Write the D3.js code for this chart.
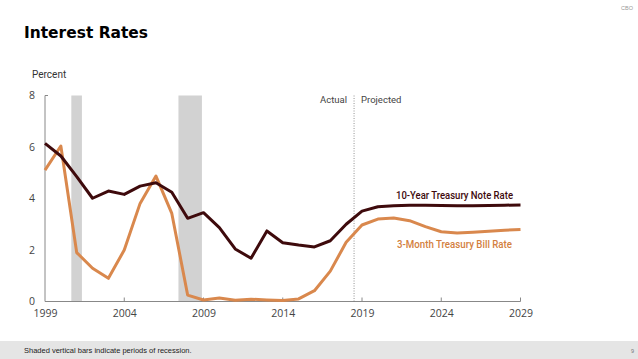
<!DOCTYPE html>
<html>
<head>
<meta charset="utf-8">
<script src="https://cdn.jsdelivr.net/npm/d3@7"></script>
<style>
  html, body { margin: 0; padding: 0; background: #fff; }
  svg { display: block; }
</style>
</head>
<body>
<svg id="chart" width="638" height="359"></svg>
<script>
// ---- data ----
const years = d3.range(1999, 2030);
const tenYear = [6.14, 5.65, 4.85, 4.01, 4.29, 4.16, 4.48, 4.61, 4.24, 3.23, 3.45, 2.87, 2.04, 1.68, 2.74, 2.28, 2.19, 2.12, 2.36, 3.0, 3.51, 3.68, 3.72, 3.74, 3.74, 3.73, 3.72, 3.72, 3.73, 3.74, 3.75];
const threeMonth = [5.1, 6.04, 1.9, 1.29, 0.9, 2.0, 3.81, 4.87, 3.42, 0.25, 0.06, 0.14, 0.05, 0.09, 0.06, 0.04, 0.1, 0.42, 1.18, 2.3, 2.97, 3.2, 3.24, 3.14, 2.91, 2.71, 2.66, 2.69, 2.73, 2.77, 2.8];
const recessions = [[2000.66, 2001.33], [2007.42, 2008.9]];
const projectionStart = 2018.5;
const yTicks = [0, 2, 4, 6, 8];
const xTicks = [1999, 2004, 2009, 2014, 2019, 2024, 2029];
const seriesNames = ["10-Year Treasury Note Rate", "3-Month Treasury Bill Rate"];

// ---- layout ----
const svg = d3.select("#chart");
const x = d3.scaleLinear().domain([1999, 2029]).range([45, 520.5]);
const y = d3.scaleLinear().domain([0, 8]).range([301.5, 95.5]);

const darkColor = "#3e0a0c";
const orangeColor = "#d9884d";
const labelFont = "'Roboto', 'Open Sans', sans-serif";

// title
svg.append("text").attr("x", 24).attr("y", 37.5)
  .attr("font-family", "'DejaVu Sans', sans-serif")
  .attr("font-weight", 700).attr("font-size", 16).attr("fill", "#000")
  .attr("textLength", 124).attr("lengthAdjust", "spacingAndGlyphs")
  .text("Interest Rates");

// CBO
svg.append("text").attr("x", 633).attr("y", 10).attr("text-anchor", "end")
  .attr("font-family", "'Liberation Sans', Arial, sans-serif")
  .attr("font-size", 5.5).attr("fill", "#999").text("CBO");

// recessions
svg.append("g").selectAll("rect").data(recessions).join("rect")
  .attr("x", d => x(d[0])).attr("width", d => x(d[1]) - x(d[0]))
  .attr("y", y(8)).attr("height", y(0) - y(8))
  .attr("fill", "#d2d2d2");

// Percent label
svg.append("text").attr("x", 32).attr("y", 78)
  .attr("font-family", labelFont).attr("font-size", 10).attr("fill", "#333")
  .text("Percent");

// axes
const yAxis = d3.axisLeft(y).tickValues(yTicks).tickSize(0).tickPadding(10);
const gy = svg.append("g").attr("transform", `translate(${x(1999)},0)`).call(yAxis);
gy.select(".domain").remove();
gy.selectAll("text").attr("font-family", "'Open Sans', sans-serif").attr("font-size", 10.5).attr("fill", "#444");

svg.append("line").attr("x1", x(1999)).attr("x2", x(1999)).attr("y1", y(8)).attr("y2", y(0))
  .attr("stroke", "#888").attr("stroke-width", 1);
svg.append("line").attr("x1", x(1999)).attr("x2", x(1999) + 3).attr("y1", y(8)).attr("y2", y(8))
  .attr("stroke", "#888").attr("stroke-width", 1);

const xAxis = d3.axisBottom(x).tickValues(xTicks).tickFormat(d3.format("d")).tickSize(0).tickPadding(8);
const gx = svg.append("g").attr("transform", `translate(0,${y(0)})`).call(xAxis);
gx.select(".domain").remove();
gx.selectAll("text").attr("font-family", "'Open Sans', sans-serif").attr("font-size", 10.5).attr("fill", "#444");
svg.append("line").attr("x1", x(1999)).attr("x2", x(2029)).attr("y1", y(0)).attr("y2", y(0))
  .attr("stroke", "#888").attr("stroke-width", 1);
svg.append("g").selectAll("line").data(xTicks.slice(1)).join("line")
  .attr("x1", d => x(d)).attr("x2", d => x(d)).attr("y1", y(0)).attr("y2", y(0) - 4)
  .attr("stroke", "#888").attr("stroke-width", 1);

// actual / projected divider
svg.append("line").attr("x1", x(projectionStart)).attr("x2", x(projectionStart))
  .attr("y1", y(8)).attr("y2", y(0))
  .attr("stroke", "#777").attr("stroke-width", 0.8).attr("stroke-dasharray", "1,1.5");
svg.append("text").attr("x", x(projectionStart) - 7).attr("y", 103).attr("text-anchor", "end")
  .attr("font-family", labelFont).attr("font-size", 9.5).attr("fill", "#444").text("Actual");
svg.append("text").attr("x", x(projectionStart) + 7).attr("y", 103)
  .attr("font-family", labelFont).attr("font-size", 9.5).attr("fill", "#444").text("Projected");

// lines
const line = d3.line().x((d, i) => x(years[i])).y(d => y(d));
svg.append("path").datum(threeMonth).attr("d", line)
  .attr("fill", "none").attr("stroke", orangeColor).attr("stroke-width", 3)
  .attr("stroke-linejoin", "round").attr("stroke-linecap", "butt");
svg.append("path").datum(tenYear).attr("d", line)
  .attr("fill", "none").attr("stroke", darkColor).attr("stroke-width", 3)
  .attr("stroke-linejoin", "round").attr("stroke-linecap", "butt");

// series labels
svg.append("text").attr("x", 513).attr("y", 199).attr("text-anchor", "end")
  .attr("font-family", labelFont).attr("font-weight", 500).attr("font-size", 10.5)
  .attr("fill", darkColor).attr("textLength", 117).attr("lengthAdjust", "spacingAndGlyphs")
  .text(seriesNames[0]);
svg.append("text").attr("x", 512).attr("y", 248).attr("text-anchor", "end")
  .attr("font-family", labelFont).attr("font-weight", 500).attr("font-size", 10.5)
  .attr("fill", "#d38040").attr("textLength", 115).attr("lengthAdjust", "spacingAndGlyphs")
  .text(seriesNames[1]);

// footer
svg.append("rect").attr("x", 0).attr("y", 341).attr("width", 638).attr("height", 18).attr("fill", "#e5e5e5");
svg.append("text").attr("x", 24).attr("y", 352.5)
  .attr("font-family", "'Liberation Sans', Arial, sans-serif").attr("font-size", 7.5).attr("fill", "#222")
  .text("Shaded vertical bars indicate periods of recession.");
svg.append("text").attr("x", 631).attr("y", 352.5)
  .attr("font-family", "'Liberation Sans', Arial, sans-serif").attr("font-size", 5.5).attr("fill", "#777")
  .text("9");
</script>
</body>
</html>
